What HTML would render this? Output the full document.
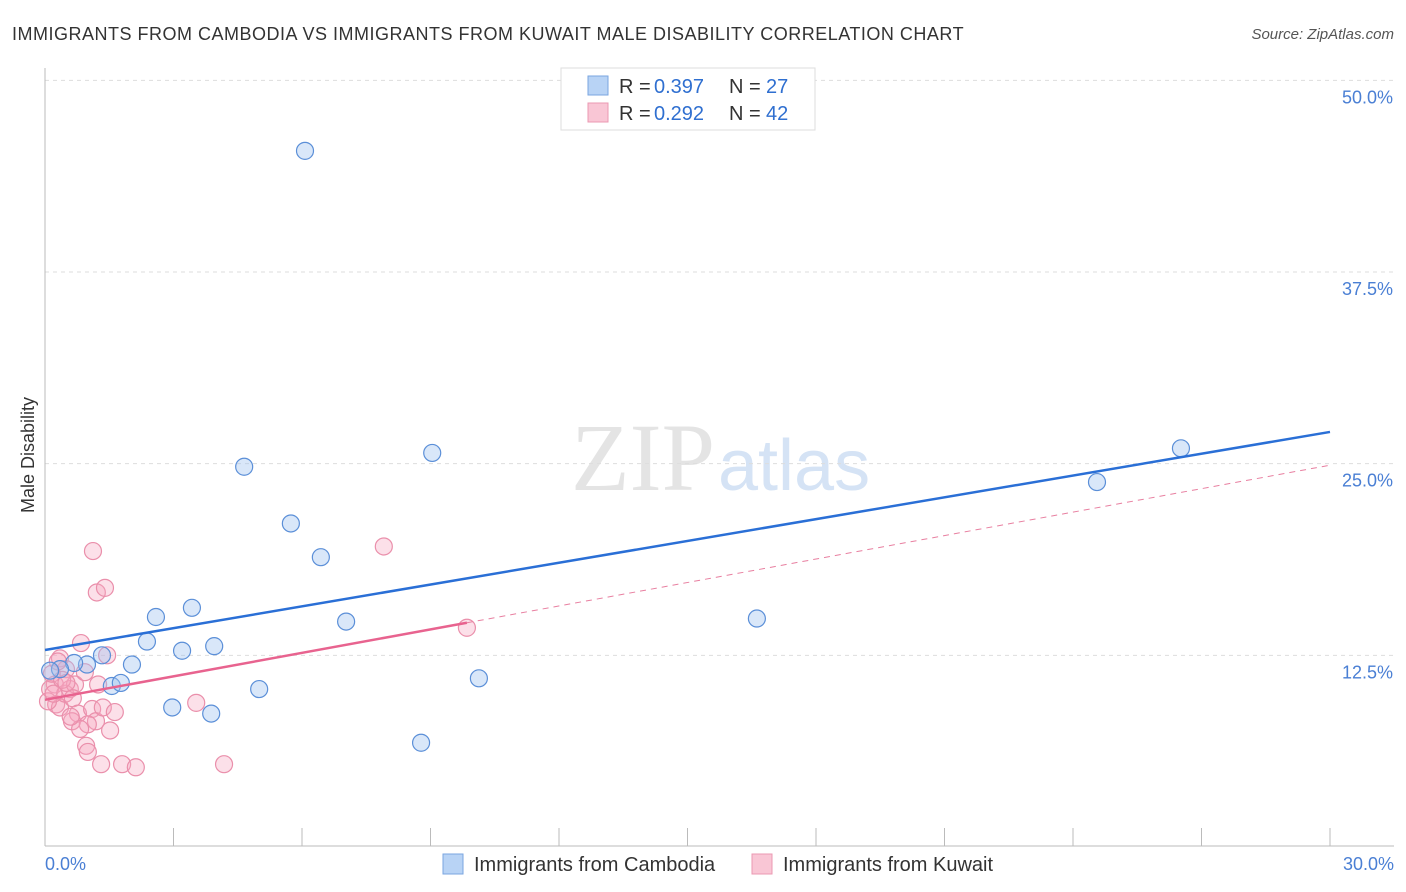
<!DOCTYPE html>
<html><head><meta charset="utf-8"><style>
body{margin:0;background:#fff;font-family:"Liberation Sans",sans-serif}
svg{display:block}
</style></head><body>
<svg width="1406" height="892" xmlns="http://www.w3.org/2000/svg">
<text x="12" y="40" font-size="18" fill="#333" letter-spacing="0.5">IMMIGRANTS FROM CAMBODIA VS IMMIGRANTS FROM KUWAIT MALE DISABILITY CORRELATION CHART</text>
<text x="1394" y="39" font-size="15" fill="#555" text-anchor="end" font-style="italic">Source: ZipAtlas.com</text>
<text x="715" y="490" font-size="96" fill="#e4e4e4" text-anchor="end" font-family="Liberation Serif">ZIP</text>
<text x="718" y="490" font-size="72" fill="#d5e3f5">atlas</text>
<g id="grid"></g>
<g id="axes"></g>
<g id="marks"></g>
<text transform="translate(34,455) rotate(-90)" font-size="18" fill="#333" text-anchor="middle">Male Disability</text>
<text x="45" y="870" font-size="18" fill="#4a7fd4">0.0%</text>
<text x="1394" y="870" font-size="18" fill="#4a7fd4" text-anchor="end">30.0%</text>
<g>
<rect x="561" y="68" width="254" height="62" fill="#fff" stroke="#ddd"/>
<rect x="588" y="76" width="20" height="19" fill="#b8d3f5" stroke="#7aa6e0"/>
<rect x="588" y="103" width="20" height="19" fill="#f9c6d5" stroke="#eb98b2"/>
<text x="619" y="93" font-size="20" fill="#333">R =</text>
<text x="654" y="93" font-size="20" fill="#2f6fd0">0.397</text>
<text x="729" y="93" font-size="20" fill="#333">N =</text>
<text x="766" y="93" font-size="20" fill="#2f6fd0">27</text>
<text x="619" y="120" font-size="20" fill="#333">R =</text>
<text x="654" y="120" font-size="20" fill="#2f6fd0">0.292</text>
<text x="729" y="120" font-size="20" fill="#333">N =</text>
<text x="766" y="120" font-size="20" fill="#2f6fd0">42</text>
</g>
<g>
<rect x="443" y="854" width="20" height="20" fill="#b8d3f5" stroke="#7aa6e0"/>
<text x="474" y="871" font-size="20" fill="#333">Immigrants from Cambodia</text>
<rect x="752" y="854" width="20" height="20" fill="#f9c6d5" stroke="#eb98b2"/>
<text x="783" y="871" font-size="20" fill="#333">Immigrants from Kuwait</text>
</g>
</svg>
<script>
const yTicks=[12.5,25,37.5,50];
const yTickLabels=["12.5%","25.0%","37.5%","50.0%"];
const xTicks=[0,3,6,9,12,15,18,21,24,27,30];
const cambodiaX=[6.07,4.65,9.04,5.74,6.44,2.59,3.43,7.03,2.38,3.20,3.95,1.33,2.03,0.98,0.68,0.35,1.56,1.77,5.0,2.97,3.88,8.78,10.13,16.62,24.56,26.52,0.12];
const cambodiaY=[45.4,24.8,25.7,21.1,18.9,15.0,15.6,14.7,13.4,12.8,13.1,12.5,11.9,11.9,12.0,11.6,10.5,10.7,10.3,9.1,8.7,6.8,11.0,14.9,23.8,26.0,11.5];
const kuwaitX=[1.12,1.21,1.40,0.84,1.45,0.35,0.49,0.23,0.12,0.16,0.26,0.35,0.58,0.47,0.70,0.93,0.65,1.24,0.77,0.63,1.10,1.19,1.35,1.63,0.96,1.00,1.52,1.31,1.80,2.12,4.18,3.53,7.91,9.85,0.30,0.40,0.07,1.00,0.82,0.50,0.20,0.60];
const kuwaitY=[19.3,16.6,16.9,13.3,12.5,12.3,11.6,10.6,10.3,11.3,9.3,9.1,10.3,10.0,10.6,11.4,9.7,10.6,8.7,8.2,9.0,8.2,9.1,8.8,6.6,6.2,7.6,5.4,5.4,5.2,5.4,9.4,19.6,14.3,12.1,10.9,9.5,8.0,7.7,10.7,10.0,8.5];
const cambodiaTrend=[12.85,27.07];
const kuwaitTrend=[9.6,24.9];
const kuwaitSolidEnd=9.85;
const NS="http://www.w3.org/2000/svg";
const X=v=>45+v*1285/30, Y=v=>847-v*575/37.5;
function mk(t,a,p){const e=document.createElementNS(NS,t);for(const k in a)e.setAttribute(k,a[k]);document.getElementById(p).appendChild(e);return e;}
yTicks.forEach((t,i)=>{
 const l=mk('line',{x1:45,x2:1394,y1:Y(t),y2:Y(t),stroke:'#ddd','stroke-dasharray':'4,4'},'grid');
 
 
 const tx=mk('text',{x:1393,y:Y(t)+23,'font-size':18,fill:'#4a7fd4','text-anchor':'end'},'grid');
 tx.textContent=yTickLabels[i];
 
 
});
const ya=mk('line',{x1:45,x2:45,y1:68,y2:846,stroke:'#bbb'},'axes');


const xa=mk('line',{x1:45,x2:1394,y1:846,y2:846,stroke:'#bbb'},'axes');


xTicks.forEach(t=>{
 const l=mk('line',{x1:X(t),x2:X(t),y1:828,y2:846,stroke:'#bbb'},'axes');
 
 
});
kuwaitX.forEach((x,i)=>{
 const c=mk('circle',{cx:X(x),cy:Y(kuwaitY[i]),r:8.5,fill:'rgba(246,166,191,0.35)',stroke:'#ea8fab','stroke-width':1.2},'marks');
 
 
});
cambodiaX.forEach((x,i)=>{
 const c=mk('circle',{cx:X(x),cy:Y(cambodiaY[i]),r:8.5,fill:'rgba(160,195,240,0.4)',stroke:'#5b8fd8','stroke-width':1.2},'marks');
 
 
});
const kf=v=>kuwaitTrend[0]+(kuwaitTrend[1]-kuwaitTrend[0])*v/30;
const kd=mk('line',{x1:X(kuwaitSolidEnd),y1:Y(kf(kuwaitSolidEnd)),x2:X(30),y2:Y(kuwaitTrend[1]),stroke:'#e87fa0','stroke-width':1,'stroke-dasharray':'6,5'},'marks');


const ks=mk('line',{x1:X(0),y1:Y(kuwaitTrend[0]),x2:X(kuwaitSolidEnd),y2:Y(kf(kuwaitSolidEnd)),stroke:'#e8638f','stroke-width':2.5},'marks');


const cl=mk('line',{x1:X(0),y1:Y(cambodiaTrend[0]),x2:X(30),y2:Y(cambodiaTrend[1]),stroke:'#2a6fd6','stroke-width':2.5},'marks');


</script>
</body></html>
